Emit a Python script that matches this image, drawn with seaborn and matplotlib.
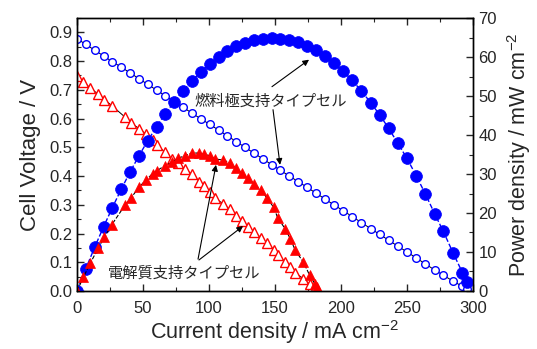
import matplotlib
matplotlib.use('Agg')
import matplotlib.pyplot as plt
from matplotlib.ticker import MultipleLocator
import seaborn as sns

# --- Data: anode-supported cell (blue) ---
cur_anode = [0.0, 6.7, 13.4, 20.1, 26.8, 33.5, 40.2, 46.9, 53.6, 60.3,
             67.0, 73.7, 80.4, 87.1, 93.8, 100.5, 107.2, 113.9, 120.6, 127.3,
             134.0, 140.7, 147.4, 154.1, 160.8, 167.5, 174.2, 180.9, 187.6, 194.5,
             201.5, 208.5, 215.5, 222.5, 229.3, 236.0, 243.0, 250.0, 257.0, 264.0,
             271.0, 277.5, 285.0, 292.0, 295.5]
volt_anode = [0.878, 0.858, 0.838, 0.818, 0.798, 0.779, 0.759, 0.739, 0.719, 0.699,
              0.679, 0.659, 0.639, 0.619, 0.599, 0.580, 0.560, 0.540, 0.520, 0.500,
              0.480, 0.460, 0.440, 0.420, 0.400, 0.381, 0.361, 0.341, 0.321, 0.300,
              0.280, 0.259, 0.238, 0.217, 0.197, 0.177, 0.156, 0.136, 0.115, 0.094,
              0.073, 0.055, 0.034, 0.016, 0.008]
pow_anode = [0.0, 5.75, 11.23, 16.44, 21.39, 26.10, 30.51, 34.66, 38.54, 42.15,
             45.49, 48.57, 51.38, 53.91, 56.19, 58.29, 60.03, 61.51, 62.71, 63.65,
             64.32, 64.72, 64.86, 64.72, 64.32, 63.82, 62.89, 61.69, 60.22, 58.35,
             56.42, 54.00, 51.29, 48.28, 45.17, 41.77, 37.91, 34.00, 29.56, 24.82,
             19.78, 15.3, 9.7, 4.7, 2.4]

# --- Data: electrolyte-supported cell (red) ---
cur_elec = [0.0, 4.8, 10.2, 16.0, 20.8, 26.4, 36.4, 40.6, 47.3, 52.3,
            57.3, 60.8, 66.3, 71.7, 76.5, 81.8, 87.3, 92.7, 96.0, 100.8,
            104.5, 110.8, 115.7, 120.3, 124.8, 129.8, 134.0, 139.6, 143.8, 149.0,
            152.0, 157.6, 161.6, 165.4, 171.5, 176.3, 180.3, 181.5]
volt_elec = [0.747, 0.728, 0.706, 0.685, 0.666, 0.645, 0.605, 0.585, 0.565, 0.545,
             0.525, 0.508, 0.484, 0.460, 0.445, 0.424, 0.406, 0.381, 0.365, 0.344,
             0.324, 0.303, 0.284, 0.262, 0.242, 0.224, 0.205, 0.185, 0.166, 0.144,
             0.124, 0.102, 0.083, 0.063, 0.043, 0.023, 0.010, 0.005]
pow_elec = [0.0, 3.49, 7.20, 10.96, 13.85, 17.03, 22.02, 23.75, 26.72, 28.50,
            30.08, 30.89, 32.09, 32.98, 34.04, 34.68, 35.44, 35.32, 35.04, 34.68,
            33.86, 33.57, 32.86, 31.52, 30.20, 29.08, 27.47, 25.83, 23.87, 21.46,
            18.8, 16.0, 13.4, 10.4, 7.4, 4.0, 1.8, 0.9]

label_anode = '燃料極支持タイプセル'
label_elec = '電解質支持タイプセル'

# --- Style ---
sns.set_style('ticks')
plt.rcParams['font.family'] = ['Liberation Sans', 'DejaVu Sans']
plt.rcParams['mathtext.default'] = 'regular'
plt.rcParams['axes.linewidth'] = 1.0
plt.rcParams['xtick.direction'] = 'in'
plt.rcParams['ytick.direction'] = 'in'

fig = plt.figure(figsize=(5.37, 3.49), dpi=100)
ax = fig.add_axes([0.1434, 0.1662, 0.8808 - 0.1434, 0.9484 - 0.1662])
ax2 = ax.twinx()

# voltage curves (left axis)
sns.lineplot(x=cur_anode, y=volt_anode, ax=ax, estimator=None, sort=False,
             color='k', lw=0.7, marker='o', markersize=5.5,
             markerfacecolor='white', markeredgecolor='#0000ff', mew=1.0)
sns.lineplot(x=cur_elec, y=volt_elec, ax=ax, estimator=None, sort=False,
             color='k', lw=0.7, marker='^', markersize=6.5,
             markerfacecolor='white', markeredgecolor='#ff0000', mew=1.0)

# power curves (right axis)
sns.lineplot(x=cur_anode, y=pow_anode, ax=ax2, estimator=None, sort=False,
             color='#0000ff', lw=1.0, linestyle='--', marker='o', markersize=8.5,
             markerfacecolor='#0000ff', markeredgecolor='#0000ff', mew=0.5)
sns.lineplot(x=cur_elec, y=pow_elec, ax=ax2, estimator=None, sort=False,
             color='k', lw=0.8, linestyle='--', marker='^', markersize=7,
             markerfacecolor='#ff0000', markeredgecolor='#ff0000', mew=0.5)

ax.set_xlim(0, 300)
ax.set_ylim(0, 0.95)
ax2.set_ylim(0, 70)

ax.xaxis.set_major_locator(MultipleLocator(50))
ax.xaxis.set_minor_locator(MultipleLocator(25))
ax.yaxis.set_major_locator(MultipleLocator(0.1))
ax.yaxis.set_minor_locator(MultipleLocator(0.05))
ax2.yaxis.set_major_locator(MultipleLocator(10))
ax2.yaxis.set_minor_locator(MultipleLocator(5))

ax.tick_params(axis='x', which='both', top=True, direction='in')
ax.tick_params(which='major', length=5, width=1.0, labelsize=12)
ax.tick_params(which='minor', length=3, width=0.8)
ax.tick_params(axis='x', which='major', pad=7)
ax2.tick_params(which='major', length=5, width=1.0, labelsize=12, direction='in', pad=4)
ax2.tick_params(which='minor', length=3, width=0.8, direction='in')
ax.yaxis.set_major_formatter(plt.FuncFormatter(lambda v, p: f'{v:.1f}'))

for a in (ax, ax2):
    for s in a.spines.values():
        s.set_visible(True)
        s.set_color('k')

ax.set_xlabel('Current density / mA cm$^{-2}$', fontsize=15.5, labelpad=2)
ax.set_ylabel('Cell Voltage / V', fontsize=16, labelpad=6)
ax2.set_ylabel('Power density / mW cm$^{-2}$', fontsize=15.5, labelpad=6)

# --- Annotations ---
jp = ['Noto Sans CJK JP', 'DejaVu Sans']
ax.text(147, 0.659, label_anode, fontsize=11, family=jp, ha='center', va='center', zorder=5)
ax.text(81.4, 0.063, label_elec, fontsize=11, family=jp, ha='center', va='center', zorder=5)

arrow = dict(arrowstyle='-|>', color='k', lw=0.8, mutation_scale=9, shrinkA=0, shrinkB=0)
for start, tip in [((147.7, 0.711), (175.8, 0.805)),
                   ((148.5, 0.631), (153.8, 0.439)),
                   ((91.7, 0.111), (105.3, 0.439)),
                   ((92.4, 0.108), (125.8, 0.226))]:
    ax2.annotate('', xy=tip, xytext=start, xycoords=ax.transData,
                 textcoords=ax.transData, arrowprops=arrow)

fig.savefig('out.png', dpi=100)
